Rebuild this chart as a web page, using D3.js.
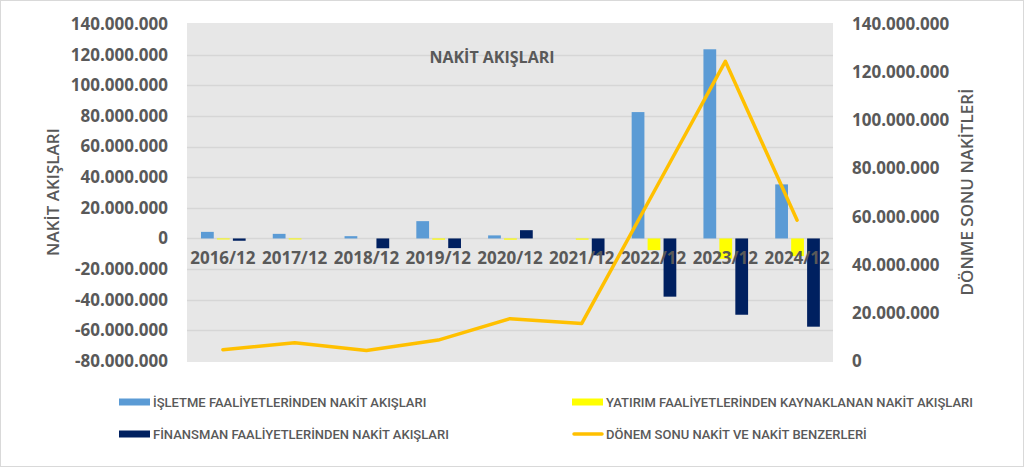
<!DOCTYPE html>
<html>
<head>
<meta charset="utf-8">
<script src="https://d3js.org/d3.v7.min.js"></script>
<style>
  body { margin: 0; background: #fff; }
  svg { display: block; }
</style>
</head>
<body>
<svg id="chart" width="1024" height="467"></svg>
<script>

// values (TL)
var categories = ["2016/12", "2017/12", "2018/12", "2019/12", "2020/12", "2021/12", "2022/12", "2023/12", "2024/12"]

var isletme   = [4300000, 3000000, 1500000, 11300000, 2000000, 0, 82500000, 123500000, 35300000]
var yatirim   = [-600000, -600000, 0, -800000, -800000, -800000, -7600000, -13300000, -11500000]
var finansman = [-1500000, 0, -6400000, -6300000, 5400000, -11000000, -38000000, -49800000, -57600000]
var donemSonu = [4700000, 7600000, 4400000, 8700000, 17600000, 15600000, 70000000, 124500000, 58500000]

var leftTicks  = [-80000000, -60000000, -40000000, -20000000, 0, 20000000, 40000000, 60000000, 80000000, 100000000, 120000000, 140000000]
var rightTicks = [0, 20000000, 40000000, 60000000, 80000000, 100000000, 120000000, 140000000]

var barSeries = [
  {name: "İŞLETME FAALİYETLERİNDEN NAKİT AKIŞLARI", values: isletme, color: "#5B9BD5"},
  {name: "YATIRIM FAALİYETLERİNDEN KAYNAKLANAN NAKİT AKIŞLARI", values: yatirim, color: "#FFFF00"},
  {name: "FİNANSMAN FAALİYETLERİNDEN NAKİT AKIŞLARI", values: finansman, color: "#002060"}
]
var lineName = "DÖNEM SONU NAKİT VE NAKİT BENZERLERİ"

var tr = d3.formatLocale({decimal: ",", thousands: ".", grouping: [3], currency: ["", ""], minus: "-"})
var fmt = tr.format(",.0f")

var svg = d3.select("#chart")
var plotLeft = 187, plotRight = 833, plotTop = 24, plotBottom = 361
var textColor = "#595959"
var font = "'Open Sans', sans-serif"

// outer border
svg.append("rect")
  .attr("x", 0.5).attr("y", 0.5)
  .attr("width", 1023).attr("height", 466)
  .attr("fill", "#fff")
  .attr("stroke", "#d9d9d9")

var x = d3.scaleBand()
  .domain(categories)
  .range([plotLeft, plotRight])

var x1 = d3.scaleBand()
  .domain(barSeries.map(d => d.name))
  .range([x.bandwidth() * 0.195, x.bandwidth() * 0.817])
  .paddingInner(0.2)

var yL = d3.scaleLinear()
  .domain([-80000000, 140000000])
  .range([plotBottom, plotTop])

var yR = d3.scaleLinear()
  .domain([0, 140000000])
  .range([plotBottom, plotTop])

// plot background
svg.append("rect")
  .attr("x", plotLeft).attr("y", plotTop - 1)
  .attr("width", plotRight - plotLeft).attr("height", plotBottom - plotTop + 2)
  .attr("fill", "#e7e7e7")

// gridlines
svg.append("g")
  .selectAll("line")
  .data(leftTicks.filter(d => d > -80000000 && d < 140000000))
  .enter().append("line")
  .attr("x1", plotLeft).attr("x2", plotRight)
  .attr("y1", d => Math.round(yL(d)) + 0.5)
  .attr("y2", d => Math.round(yL(d)) + 0.5)
  .attr("stroke", "#d6d6d6")
  .attr("stroke-width", 1.3)

// bars
var groups = svg.append("g")
  .selectAll("g")
  .data(barSeries)
  .enter().append("g")
  .attr("fill", d => d.color)

groups.selectAll("rect")
  .data(s => s.values.map((v, i) => ({s: s.name, cat: categories[i], v: v})))
  .enter().append("rect")
  .attr("x", d => x(d.cat) + x1(d.s))
  .attr("width", x1.bandwidth())
  .attr("y", d => yL(Math.max(0, d.v)))
  .attr("height", d => Math.max(Math.abs(yL(d.v) - yL(0)), d.v != 0 ? 1 : 0))

// category labels (sit on the zero line, inside the plot)
svg.append("g")
  .selectAll("text")
  .data(categories)
  .enter().append("text")
  .attr("x", d => x(d) + x.bandwidth() / 2)
  .attr("y", yL(0) + 26)
  .attr("text-anchor", "middle")
  .style("font-family", font)
  .style("font-weight", "bold")
  .style("font-size", "17px")
  .style("fill", textColor)
  .text(d => d)

// line on secondary axis
var line = d3.line()
  .x((d, i) => x(categories[i]) + x.bandwidth() / 2)
  .y(d => yR(d))

svg.append("path")
  .datum(donemSonu)
  .attr("d", line)
  .attr("fill", "none")
  .attr("stroke", "#FFC000")
  .attr("stroke-width", 3.5)
  .attr("stroke-linejoin", "round")
  .attr("stroke-linecap", "round")

// left axis
var axL = svg.append("g")
  .attr("transform", `translate(${plotLeft - 19},0)`)
  .call(d3.axisLeft(yL).tickValues(leftTicks).tickFormat(fmt).tickSize(0).tickPadding(0))
axL.select(".domain").remove()
axL.selectAll("text")
  .style("font-family", font)
  .style("font-weight", "bold")
  .style("font-size", "17px")
  .style("fill", textColor)

// right axis
var axR = svg.append("g")
  .attr("transform", `translate(${plotRight + 19},0)`)
  .call(d3.axisRight(yR).tickValues(rightTicks).tickFormat(fmt).tickSize(0).tickPadding(0))
axR.select(".domain").remove()
axR.selectAll("text")
  .style("font-family", font)
  .style("font-weight", "bold")
  .style("font-size", "17px")
  .style("fill", textColor)

// titles
svg.append("text")
  .attr("x", 492).attr("y", 63)
  .attr("text-anchor", "middle")
  .style("font-family", font)
  .style("font-weight", "bold")
  .style("font-size", "16px")
  .style("fill", textColor)
  .text("NAKİT AKIŞLARI")

svg.append("text")
  .attr("transform", "translate(59,192) rotate(-90)")
  .attr("text-anchor", "middle")
  .style("font-family", font)
  .style("font-weight", "600")
  .style("font-size", "17px")
  .style("fill", textColor)
  .text("NAKİT AKIŞLARI")

svg.append("text")
  .attr("transform", "translate(973,192) rotate(-90)")
  .attr("text-anchor", "middle")
  .style("font-family", font)
  .style("font-weight", "600")
  .style("font-size", "17px")
  .style("fill", textColor)
  .text("DÖNME SONU NAKİTLERİ")

// legend
var legendItems = [
  {name: barSeries[0].name, color: barSeries[0].color, type: "bar", lx: 119, ly: 402},
  {name: barSeries[1].name, color: barSeries[1].color, type: "bar", lx: 572, ly: 402},
  {name: barSeries[2].name, color: barSeries[2].color, type: "bar", lx: 119, ly: 434},
  {name: lineName, color: "#FFC000", type: "line", lx: 572, ly: 434}
]

var leg = svg.append("g")
  .selectAll("g")
  .data(legendItems)
  .enter().append("g")
  .attr("transform", d => `translate(${d.lx},${d.ly})`)

leg.filter(d => d.type == "bar").append("rect")
  .attr("x", 0).attr("y", -3.5)
  .attr("width", 31).attr("height", 7)
  .attr("fill", d => d.color)

leg.filter(d => d.type == "line").append("line")
  .attr("x1", 2).attr("x2", 30)
  .attr("y1", 0).attr("y2", 0)
  .attr("stroke", d => d.color)
  .attr("stroke-width", 3.5)
  .attr("stroke-linecap", "round")

leg.append("text")
  .attr("x", 34).attr("y", 0)
  .attr("dy", "0.36em")
  .style("font-family", "Roboto, sans-serif")
  .style("font-weight", "500")
  .style("font-size", "13px")
  .style("fill", textColor)
  .text(d => d.name)

</script>
</body>
</html>
